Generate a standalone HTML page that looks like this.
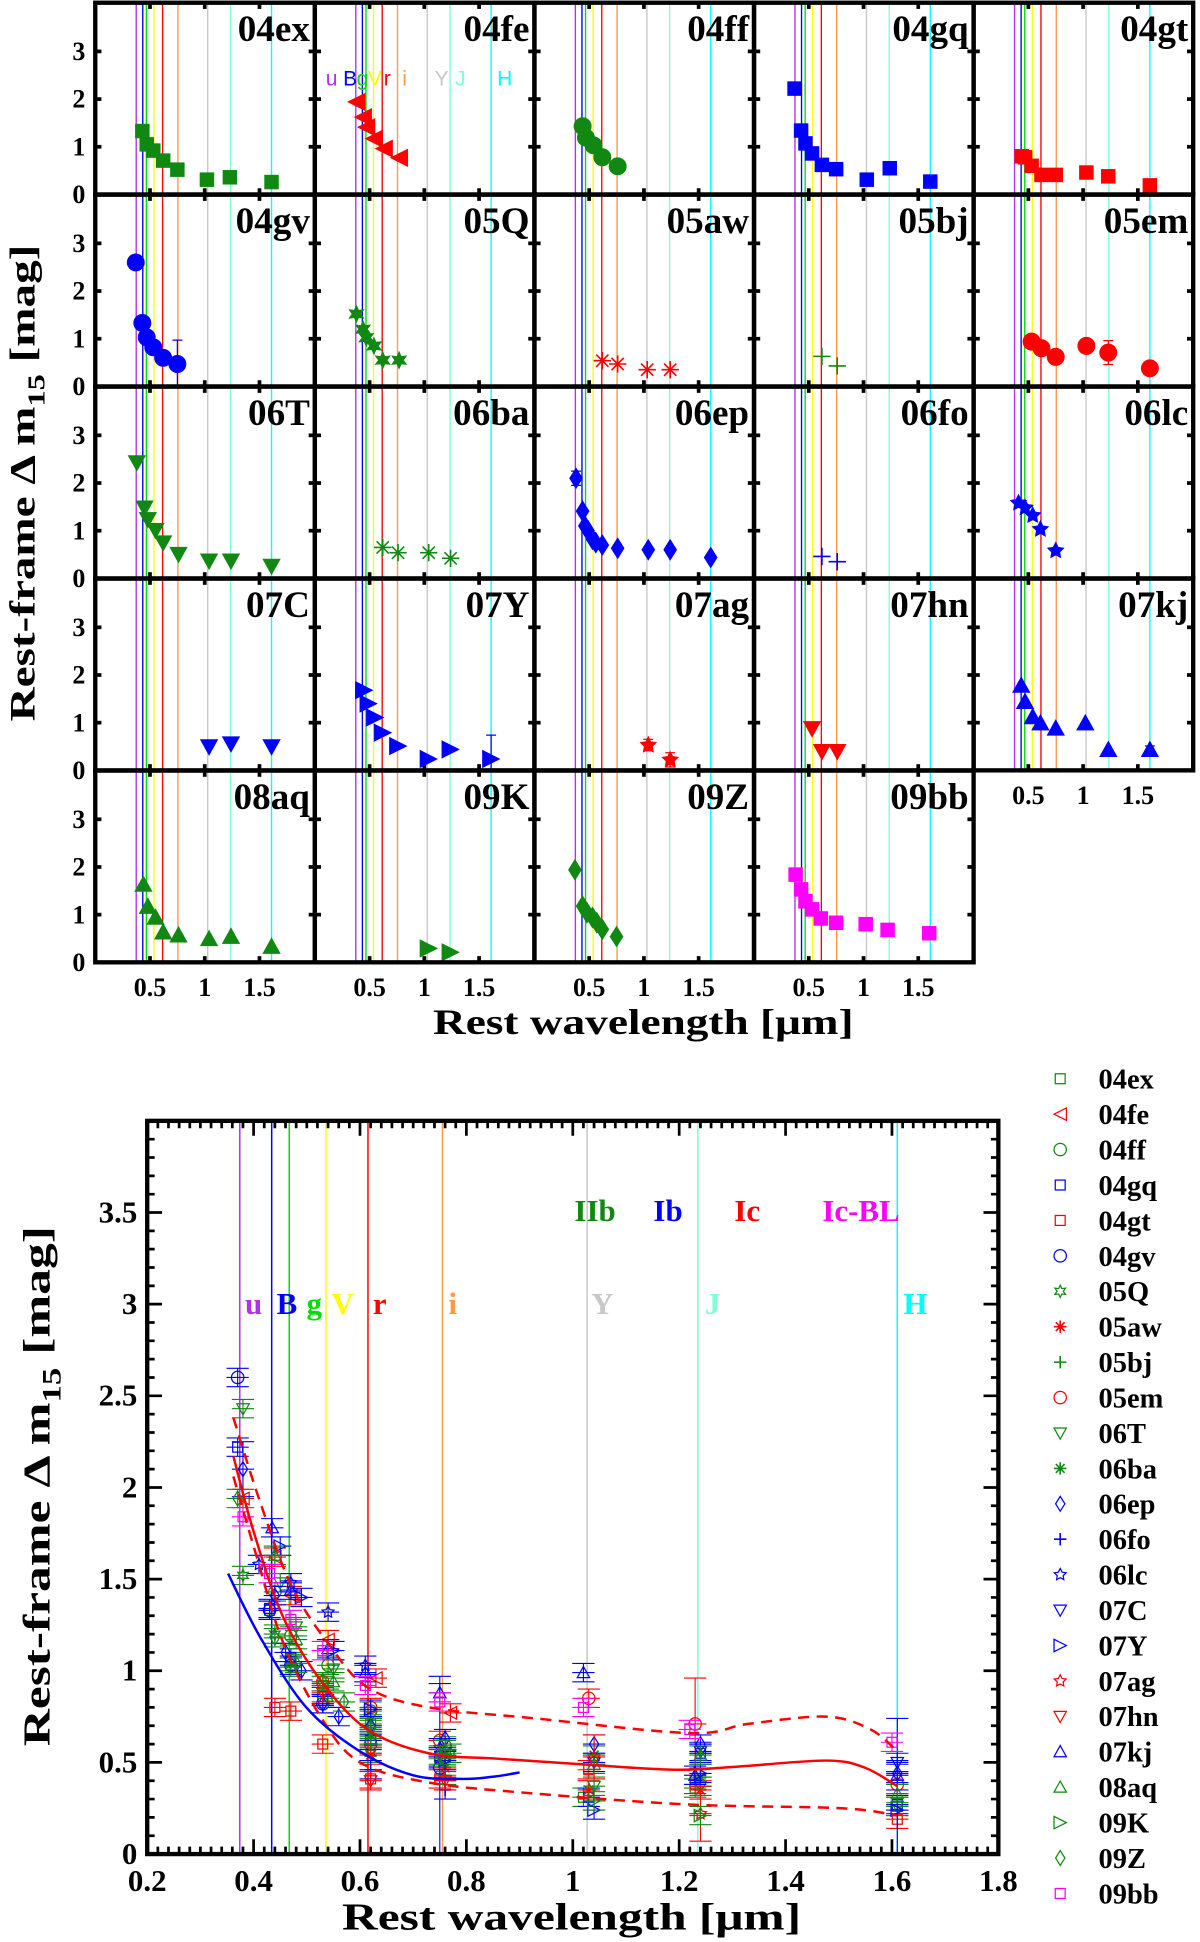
<!DOCTYPE html>
<html><head><meta charset="utf-8"><style>
html,body{margin:0;padding:0;background:#fff;}
svg{display:block;}
text{font-family:"Liberation Serif","DejaVu Serif",serif;font-weight:bold;}
</style></head><body>
<svg id="fig" xmlns="http://www.w3.org/2000/svg" width="1200" height="1942" viewBox="0 0 970 1568" preserveAspectRatio="none"></svg>
<script>
const snNames=["04ex","04fe","04ff","04gq","04gt","04gv","05Q","05aw","05bj","05em","06T","06ba","06ep","06fo","06lc","07C","07Y","07ag","07hn","07kj","08aq","09K","09Z","09bb"];
const snColors=["#118811","#ff0000","#118811","#0000ff","#ff0000","#0000ff","#118811","#ff0000","#118811","#ff0000","#118811","#118811","#0000ff","#0000ff","#0000ff","#0000ff","#0000ff","#ff0000","#ff0000","#0000ff","#118811","#118811","#118811","#ff00ff"];
const snShapes=["sq","tl","c","sq","sq","c","s6","ast","plus","c","td","ast","dia","plus","s5","td","tr","s5","td","tu","tu","tr","dia","sq"];
const snLam=[
[0.43,0.47,0.53,0.62,0.75,1.02,1.23,1.61],
[0.38,0.44,0.47,0.54,0.63,0.77],
[0.44,0.47,0.54,0.62,0.76],
[0.37,0.43,0.47,0.53,0.62,0.75,1.03,1.24,1.61],
[0.44,0.47,0.53,0.62,0.75,1.03,1.23,1.61],
[0.37,0.43,0.47,0.53,0.62,0.75],
[0.38,0.44,0.47,0.54,0.62,0.77],
[0.62,0.76,1.03,1.24],
[0.62,0.76],
[0.53,0.62,0.75,1.03,1.23,1.61],
[0.38,0.45,0.48,0.55,0.62,0.76,1.04,1.24,1.61],
[0.62,0.76,1.04,1.24],
[0.38,0.44,0.46,0.49,0.53,0.56,0.62,0.76,1.04,1.24,1.61],
[0.62,0.76],
[0.41,0.47,0.54,0.61,0.75],
[1.04,1.24,1.61],
[0.45,0.49,0.55,0.62,0.76,1.04,1.24,1.61],
[1.04,1.24],
[0.53,0.62,0.76],
[0.435,0.47,0.54,0.61,0.75,1.02,1.23,1.61],
[0.44,0.48,0.55,0.62,0.76,1.04,1.24,1.61],
[1.04,1.24],
[0.37,0.44,0.48,0.53,0.57,0.62,0.75],
[0.38,0.43,0.47,0.53,0.61,0.75,1.02,1.22,1.60]];
const snVal=[
[1.33,1.05,0.92,0.71,0.52,0.31,0.36,0.26],
[1.94,1.62,1.41,1.17,0.96,0.77],
[1.43,1.19,1.03,0.78,0.59],
[2.22,1.34,1.07,0.86,0.62,0.53,0.31,0.55,0.27],
[0.80,0.78,0.60,0.41,0.41,0.46,0.38,0.19],
[2.60,1.33,1.03,0.82,0.60,0.47],
[1.52,1.20,1.02,0.85,0.55,0.55],
[0.54,0.47,0.35,0.35],
[0.63,0.43],
[0.94,0.80,0.62,0.85,0.71,0.38],
[2.43,1.48,1.24,1.01,0.75,0.51,0.37,0.37,0.26],
[0.65,0.54,0.54,0.42],
[2.10,1.41,1.10,1.00,0.82,0.75,0.70,0.63,0.60,0.60,0.44],
[0.46,0.35],
[1.58,1.48,1.32,1.03,0.58],
[0.50,0.56,0.50],
[1.68,1.40,1.11,0.79,0.51,0.24,0.44,0.24],
[0.53,0.22],
[0.88,0.40,0.40],
[1.78,1.44,1.12,0.99,0.88,0.99,0.43,0.43],
[1.63,1.17,0.94,0.63,0.57,0.49,0.54,0.33],
[0.29,0.21],
[1.94,1.18,1.04,0.94,0.83,0.69,0.54],
[1.84,1.53,1.28,1.11,0.92,0.83,0.80,0.68,0.61]];
// [sn index, point index, error]
const bigErr=[[5,5,0.5],[9,4,0.25],[16,7,0.5],[17,0,0.12],[17,1,0.15],[12,0,0.15],[19,7,0.08]];
const bandNames=["u","B","g","V","r","i","Y","J","H"];
const bandLam=[0.374,0.434,0.467,0.536,0.615,0.755,1.027,1.235,1.61];
const bandColors=["#b030f0","#0000ff","#00dd00","#ffff00","#ff0000","#ff9944","#c8c8c8","#7fffd4","#00ffff"];
const fitRedLam=[0.362,0.40,0.456,0.528,0.614,0.729,0.858,1.017,1.19,1.30,1.476,1.55,1.61];
const fitRedVal=[2.17,1.76,1.29,0.94,0.68,0.55,0.52,0.49,0.46,0.475,0.51,0.47,0.37];
const fitUpLam=[0.362,0.41,0.47,0.54,0.614,0.73,0.93,1.22,1.33,1.476,1.56,1.61];
const fitUpVal=[2.38,1.94,1.47,1.15,0.91,0.80,0.74,0.66,0.71,0.75,0.68,0.56];
const fitLoLam=[0.362,0.406,0.456,0.528,0.60,0.73,0.93,1.22,1.505,1.61];
const fitLoVal=[2.06,1.62,1.15,0.74,0.50,0.39,0.33,0.27,0.25,0.21];
const fitBlueLam=[0.352,0.413,0.499,0.60,0.70,0.787,0.845,0.90];
const fitBlueVal=[1.53,1.18,0.80,0.56,0.43,0.41,0.42,0.445];
const typeLabels=["IIb","Ib","Ic","Ic-BL"];
const typeColors=["#118811","#0000ff","#ff0000","#ff00ff"];
const xTickVals=[0.2,0.4,0.6,0.8,1,1.2,1.4,1.6,1.8];
const yTickVals=[0,0.5,1,1.5,2,2.5,3,3.5];

const NS="http://www.w3.org/2000/svg";
const svg=document.getElementById('fig');
function mk(tag,attrs,parent){const e=document.createElementNS(NS,tag);for(const k in attrs)e.setAttribute(k,attrs[k]);(parent||svg).appendChild(e);return e;}

function marker(g,shape,cx,cy,r,col,filled){
  const f=filled?col:'none', sw=filled?0.5:1;
  let e;
  const poly=(pts)=>mk('polygon',{points:pts.map(p=>p[0].toFixed(1)+','+p[1].toFixed(1)).join(' '),fill:f,stroke:col,'stroke-width':sw},g);
  if(shape==='sq'){e=mk('rect',{x:cx-r*0.8,y:cy-r*0.8,width:r*1.6,height:r*1.6,fill:f,stroke:col,'stroke-width':sw},g);}
  else if(shape==='c'){e=mk('circle',{cx:cx,cy:cy,r:r,fill:f,stroke:col,'stroke-width':sw},g);}
  else if(shape==='tl'){e=poly([[cx-r,cy],[cx+r,cy-r],[cx+r,cy+r]]);}
  else if(shape==='tr'){e=poly([[cx+r,cy],[cx-r,cy-r],[cx-r,cy+r]]);}
  else if(shape==='tu'){e=poly([[cx,cy-r],[cx-r,cy+r*0.8],[cx+r,cy+r*0.8]]);}
  else if(shape==='td'){e=poly([[cx,cy+r],[cx-r,cy-r*0.8],[cx+r,cy-r*0.8]]);}
  else if(shape==='dia'){e=poly([[cx,cy-r*1.2],[cx+r*0.75,cy],[cx,cy+r*1.2],[cx-r*0.75,cy]]);}
  else if(shape==='s5'||shape==='s6'){const n=shape==='s5'?5:6;const pts=[];for(let i=0;i<2*n;i++){const a=-Math.PI/2+i*Math.PI/n;const rr=i%2?r*0.5:r;pts.push([cx+rr*Math.cos(a),cy+rr*Math.sin(a)]);}e=poly(pts);}
  else if(shape==='plus'){e=mk('path',{d:`M${cx-r} ${cy}H${cx+r}M${cx} ${cy-r}V${cy+r}`,stroke:col,'stroke-width':1.3,fill:'none'},g);}
  else if(shape==='ast'){let d='';for(let i=0;i<4;i++){const a=i*Math.PI/4;d+=`M${cx-r*Math.cos(a)} ${cy-r*Math.sin(a)}L${cx+r*Math.cos(a)} ${cy+r*Math.sin(a)}`;}e=mk('path',{d:d,stroke:col,'stroke-width':1.3,fill:'none'},g);}
  return e;
}
function smoothPath(pts){
  let d=`M${pts[0][0]} ${pts[0][1]}`;
  for(let i=0;i<pts.length-1;i++){
    const p0=pts[i-1]||pts[i],p1=pts[i],p2=pts[i+1],p3=pts[i+2]||p2;
    const c1=[p1[0]+(p2[0]-p0[0])/6,p1[1]+(p2[1]-p0[1])/6];
    const c2=[p2[0]-(p3[0]-p1[0])/6,p2[1]-(p3[1]-p1[1])/6];
    d+=`C${c1[0].toFixed(1)} ${c1[1].toFixed(1)} ${c2[0].toFixed(1)} ${c2[1].toFixed(1)} ${p2[0].toFixed(1)} ${p2[1].toFixed(1)}`;
  }
  return d;
}

/* ---------- TOP GRID ---------- */
const colL=[77,254.5,432,609.5,787], PW=177.5;
const rowB=[157,312,467,622,777], PH=154.8;
const pxU=88.5, pyU=38.5;
const fePanelBandX=[268,283,293,303,313,327,357,372,408];
for(let k=0;k<snNames.length;k++){
  const c=k%5, r=Math.floor(k/5);
  const L=colL[c], B=rowB[r], T=B-PH;
  const g=mk('g',{});
  
  
  const cp='clip'+k;
  const cl=mk('clipPath',{id:cp},g); mk('rect',{x:L,y:T,width:PW,height:PH},cl);
  const sx=v=>L+v*pxU, sy=v=>B-v*pyU;
  for(let b=0;b<bandLam.length;b++){
    const ln=mk('line',{x1:sx(bandLam[b]),x2:sx(bandLam[b]),y1:T,y2:B,stroke:bandColors[b],'stroke-width':1.1},g);
    
    
  }
  [1,2,3].forEach(v=>{mk('line',{x1:L,x2:L+5,y1:sy(v),y2:sy(v),stroke:'#000','stroke-width':3},g);mk('line',{x1:L+PW-5,x2:L+PW,y1:sy(v),y2:sy(v),stroke:'#000','stroke-width':3},g);});
  [0.5,1,1.5].forEach(v=>{mk('line',{x1:sx(v),x2:sx(v),y1:B-5,y2:B,stroke:'#000','stroke-width':3},g);mk('line',{x1:sx(v),x2:sx(v),y1:T,y2:T+5,stroke:'#000','stroke-width':3},g);});
  if(k===1){
    for(let b=0;b<bandNames.length;b++){
      const bt=mk('text',{x:fePanelBandX[b],y:T+67,'text-anchor':'middle','font-size':17,fill:bandColors[b],style:'font-family:"Liberation Sans",sans-serif;font-weight:normal'},g);
      bt.textContent=bandNames[b];
      
      
    }
  }
  const mg=mk('g',{'clip-path':`url(#${cp})`},g);
  const lam=snLam[k], val=snVal[k];
  for(let i=0;i<lam.length;i++){
    const be=bigErr.find(e=>e[0]===k&&e[1]===i);
    if(be){const x=sx(lam[i]);mk('path',{d:`M${x} ${sy(val[i]-be[2])}V${sy(val[i]+be[2])}M${x-4} ${sy(val[i]+be[2])}H${x+4}M${x-4} ${sy(val[i]-be[2])}H${x+4}`,stroke:snColors[k],'stroke-width':1},mg);}
    const m=marker(mg,snShapes[k],sx(lam[i]),sy(val[i]),7,snColors[k],true);
    
    
  }
  mk('rect',{x:L,y:T,width:PW,height:PH,fill:'none',stroke:'#000','stroke-width':3.5},g);
  const t=mk('text',{x:L+PW-4,y:T+31,'text-anchor':'end','font-size':30},g);
  t.textContent=snNames[k];
  
  
  if(c===0){
    [0,1,2,3].forEach(v=>{const yt=mk('text',{x:L-8,y:sy(v)+7,'text-anchor':'end','font-size':21},g);yt.textContent=String(v);
      
      });
  }
  if(r===4||(r===3&&c===4)){
    [0.5,1,1.5].forEach(v=>{const xt=mk('text',{x:sx(v),y:B+27,'text-anchor':'middle','font-size':21},g);xt.textContent=String(v);
      
      });
  }
}
let yt1=mk('text',{x:0,y:0,'font-size':29,'text-anchor':'middle',textLength:385,lengthAdjust:'spacingAndGlyphs',transform:'translate(28,390) rotate(-90)'});
yt1.innerHTML='Rest-frame Δ m<tspan font-size="20" dy="8">15</tspan><tspan dy="-8"> [mag]</tspan>';


let xt1=mk('text',{x:520,y:835,'font-size':29,'text-anchor':'middle',textLength:340,lengthAdjust:'spacingAndGlyphs'});
xt1.textContent='Rest wavelength [μm]';



/* ---------- BOTTOM PLOT ---------- */
const PL=119, PR=807, PT=905, PBm=1497;
const X=v=>PL+(v-0.2)*(PR-PL)/1.6, Y=v=>PBm-v*148;
const bp=mk('g',{});


const bclip=mk('clipPath',{id:'bclip'},bp);
mk('rect',{x:PL,y:PT,width:PR-PL,height:PBm-PT},bclip);
for(let b=0;b<bandLam.length;b++){
  const ln=mk('line',{x1:X(bandLam[b]),x2:X(bandLam[b]),y1:PT,y2:PBm,stroke:bandColors[b],'stroke-width':1.2},bp);
  
  
}
const bandLblX=[205,232,254,277,307,366,487,576,740];
for(let b=0;b<bandNames.length;b++){
  const t=mk('text',{x:bandLblX[b],y:1061,'text-anchor':'middle','font-size':25,fill:bandColors[b]},bp);
  t.textContent=bandNames[b];
  
  
}
const typeX=[481,540,604,696];
for(let i=0;i<typeLabels.length;i++){
  const t=mk('text',{x:typeX[i],y:986,'text-anchor':'middle','font-size':25,fill:typeColors[i]},bp);
  t.textContent=typeLabels[i];
  
  
}
const dg=mk('g',{'clip-path':'url(#bclip)'},bp);
for(let k=0;k<snNames.length;k++){
  const lam=snLam[k], val=snVal[k], col=snColors[k];
  for(let i=0;i<lam.length;i++){
    const be=bigErr.find(e=>e[0]===k&&e[1]===i);
    const err=be?be[2]:0.05;
    const x=X(lam[i]), y1=Y(val[i]-err), y2=Y(val[i]+err), y=Y(val[i]);
    mk('path',{d:`M${x} ${y1}V${y2}M${x-9} ${y1}H${x+9}M${x-9} ${y2}H${x+9}M${x-9} ${y}H${x+9}`,stroke:col,'stroke-width':0.9,fill:'none'},dg);
    const m=marker(dg,snShapes[k],x,y,5,col,false);
    
    
  }
}
function drawFit(lam,val,col,dash,name){
  const p=mk('path',{d:smoothPath(lam.map((l,i)=>[X(l),Y(val[i])])),stroke:col,'stroke-width':2,fill:'none','stroke-dasharray':dash},dg);
  
  
}
drawFit(fitRedLam,fitRedVal,'#ff0000','none','fit-red-mean');
drawFit(fitUpLam,fitUpVal,'#ff0000','9,6','fit-red-upper');
drawFit(fitLoLam,fitLoVal,'#ff0000','9,6','fit-red-lower');
drawFit(fitBlueLam,fitBlueVal,'#0000ff','none','fit-blue');
let td='';
for(let i=0;i<=80;i++){const v=0.2+i*0.02,x=X(v),len=(i%10===0)?12:6;td+=`M${x} ${PBm}V${PBm-len}M${x} ${PT}V${PT+len}`;}
for(let i=0;i<=40;i++){const v=i*0.1,y=Y(v),len=(i%5===0)?12:6;td+=`M${PL} ${y}H${PL+len}M${PR} ${y}H${PR-len}`;}
mk('path',{d:td,stroke:'#000','stroke-width':2.2,fill:'none'},bp);
mk('rect',{x:PL,y:PT,width:PR-PL,height:PBm-PT,fill:'none',stroke:'#000','stroke-width':3.5},bp);
xTickVals.forEach(v=>{const t=mk('text',{x:X(v),y:PBm+30,'text-anchor':'middle','font-size':25},bp);t.textContent=String(v);
  
  });
yTickVals.forEach(v=>{const t=mk('text',{x:PL-8,y:Y(v)+8,'text-anchor':'end','font-size':25},bp);t.textContent=String(v);
  
  });
let yt2=mk('text',{x:0,y:0,'font-size':31,'text-anchor':'middle',textLength:420,lengthAdjust:'spacingAndGlyphs',transform:'translate(40,1200) rotate(-90)'});
yt2.innerHTML='Rest-frame Δ m<tspan font-size="21" dy="9">15</tspan><tspan dy="-9"> [mag]</tspan>';


let xt2=mk('text',{x:462,y:1558,'font-size':31,'text-anchor':'middle',textLength:371,lengthAdjust:'spacingAndGlyphs'});
xt2.textContent='Rest wavelength [μm]';


const lg=mk('g',{});


for(let k=0;k<snNames.length;k++){
  const y=871+k*28.6;
  const e=mk('g',{},lg);
  
  
  marker(e,snShapes[k],857,y,5,snColors[k],false);
  const t=mk('text',{x:888,y:y+8,'font-size':23},e);
  t.textContent=snNames[k];
}
</script>
</body></html>
